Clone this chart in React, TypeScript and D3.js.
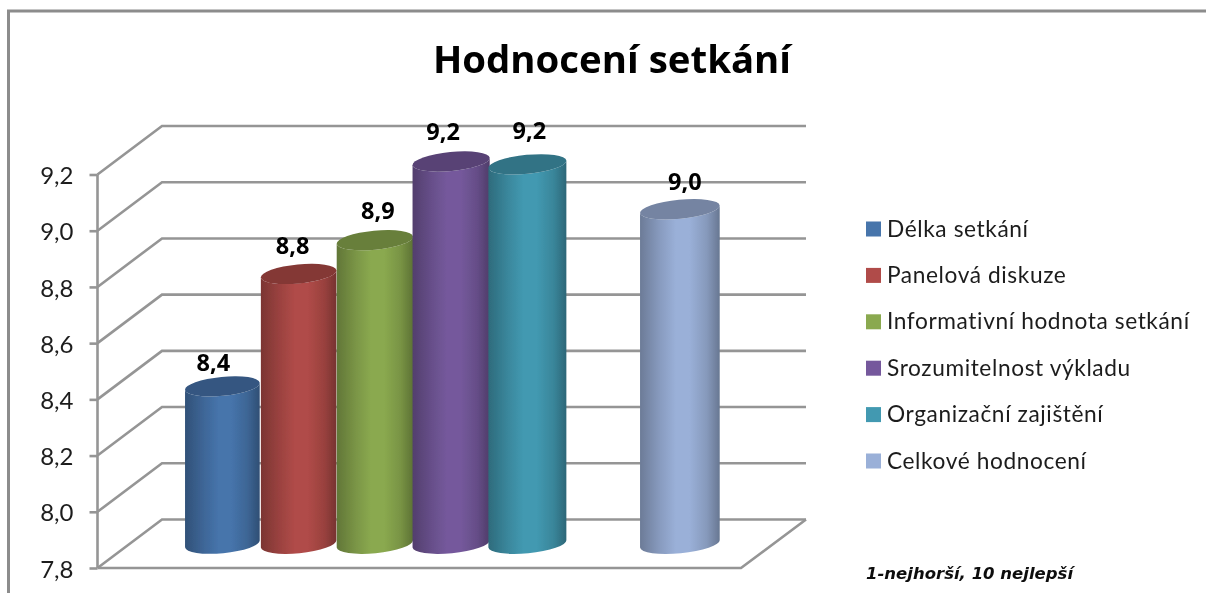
import { useEffect, useRef } from "react";
import * as d3 from "d3";

const title = "Hodnocení setkání";
const note = "1-nejhorší, 10 nejlepší";
const categories = ["Délka setkání", "Panelová diskuze", "Informativní hodnota setkání", "Srozumitelnost výkladu", "Organizační zajištění", "Celkové hodnocení"];
const values = [8.36, 8.76, 8.88, 9.16, 9.15, 8.99];
const colors = ["#4674ab", "#b04b48", "#8aa94f", "#75599c", "#4299b1", "#9ab0d8"];
const tickValues = [7.8, 8.0, 8.2, 8.4, 8.6, 8.8, 9.0, 9.2];
// the chart leaves one empty slot before the last cylinder
const slots = ["Délka setkání", "Panelová diskuze", "Informativní hodnota setkání", "Srozumitelnost výkladu", "Organizační zajištění", "", "Celkové hodnocení"];

const width = 1206;
const height = 593;
const font = "Lato, 'Open Sans', sans-serif";
const boldFont = "'Open Sans', Lato, sans-serif";
const gridColor = "#959595";
const x0 = 97.5;

function App() {
    const ref = useRef<SVGSVGElement>(null);

    useEffect(() => {
        const svg = d3.select(ref.current);
        svg.selectAll("*").remove();

        const y = d3.scaleLinear().domain([7.8, 9.2]).range([568, 174.5]);
        const x = d3.scaleBand().domain(slots).range([184.25, 718]).padding(0);
        const depthX = 64.5;
        const depthY = -48.5;
        const comma = (v: number) => d3.format(".1f")(v).replace(".", ",");

        const defs = svg.append("defs");
        defs.append("filter").attr("id", "soft")
            .attr("x", "-5%").attr("y", "-5%").attr("width", "110%").attr("height", "110%")
            .append("feGaussianBlur").attr("stdDeviation", 0.45);

        colors.forEach((c, i) => {
            const grad = defs.append("linearGradient").attr("id", `cyl${i}`);
            const base = d3.color(c)!;
            grad.append("stop").attr("offset", "0%").attr("stop-color", base.darker(1.0).formatHex());
            grad.append("stop").attr("offset", "25%").attr("stop-color", base.darker(0.35).formatHex());
            grad.append("stop").attr("offset", "45%").attr("stop-color", c);
            grad.append("stop").attr("offset", "62%").attr("stop-color", c);
            grad.append("stop").attr("offset", "84%").attr("stop-color", base.darker(0.4).formatHex());
            grad.append("stop").attr("offset", "100%").attr("stop-color", base.darker(1.1).formatHex());
        });

        const root = svg.append("g").attr("filter", "url(#soft)");

        // outer frame, open at the bottom and on the right
        root.append("path")
            .attr("d", `M8.5,${height + 10}V11H${width + 10}`)
            .attr("fill", "none")
            .attr("stroke", "#8c8c8c")
            .attr("stroke-width", 3);

        // grid: side wall diagonal + back wall line
        const line = d3.line();
        const grid = root.append("g").attr("fill", "none").attr("stroke", gridColor).attr("stroke-width", 2.6);
        tickValues.forEach((t) => {
            grid.append("path").attr("d", line([
                [x0, y(t)],
                [x0 + depthX, y(t) + depthY],
                [806, y(t) + depthY],
            ]));
        });
        // floor front and right edges
        grid.append("path").attr("d", line([
            [x0, y(7.8)],
            [741, y(7.8)],
            [806, y(7.8) + depthY],
        ]));

        const axis = d3.axisLeft(y).tickValues(tickValues).tickSize(8).tickPadding(16)
            .tickFormat((d) => comma(d as number));
        const axisG = root.append("g").attr("transform", `translate(${x0},0)`).call(axis);
        axisG.select(".domain").remove();
        axisG.selectAll(".tick line").attr("stroke", gridColor).attr("stroke-width", 2.6);
        axisG.selectAll("text")
            .attr("font-family", font)
            .attr("font-size", 24)
            .attr("fill", "#1c1c1c")
            .attr("dy", "0.38em");
        root.append("path")
            .attr("d", line([[x0, y(9.2)], [x0, y(7.8)]]))
            .attr("stroke", gridColor)
            .attr("stroke-width", 2.6);

        // cylinders, drawn left to right so each one overlaps the previous
        const tilt = 5.5;
        const rad = (tilt * Math.PI) / 180;
        const ry = 9.5;
        const bars = root.append("g");
        categories.forEach((name, i) => {
            const cx = x(name)! + x.bandwidth() / 2;
            const rx = 37.5 + (cx - 222) * 0.0055;
            const top = y(values[i]) + depthY / 2;
            const bottom = y(7.8) + depthY / 2;
            const dx = rx * Math.cos(rad);
            const dy = rx * Math.sin(rad);
            const d = `M${cx - dx},${top + dy}L${cx - dx},${bottom + dy}`
                + `A${rx},${ry} ${-tilt} 0 0 ${cx + dx},${bottom - dy}`
                + `L${cx + dx},${top - dy}`
                + `A${rx},${ry} ${-tilt} 0 1 ${cx - dx},${top + dy}Z`;
            bars.append("path").attr("d", d).attr("fill", `url(#cyl${i})`);
            bars.append("ellipse")
                .attr("rx", rx)
                .attr("ry", ry)
                .attr("transform", `translate(${cx},${top}) rotate(${-tilt})`)
                .attr("fill", d3.color(colors[i])!.darker(0.8).formatHex());
        });

        // value labels sit by hand around the cylinders in the original
        const labelNudge = [[-9, 1], [-6, -4], [3, -5], [-8, -5], [2, -9], [5, -3]];
        const labels = root.append("g");
        categories.forEach((name, i) => {
            const cx = x(name)! + x.bandwidth() / 2;
            labels.append("text")
                .attr("x", cx + labelNudge[i][0])
                .attr("y", y(values[i]) + depthY / 2 - 9.5 - 6.5 + labelNudge[i][1])
                .attr("text-anchor", "middle")
                .attr("font-family", boldFont)
                .attr("font-weight", 700)
                .attr("font-size", 23.5)
                .attr("fill", "#000")
                .text(comma(values[i]));
        });

        root.append("text")
            .attr("x", 612)
            .attr("y", 73)
            .attr("text-anchor", "middle")
            .attr("font-family", boldFont)
            .attr("font-weight", 700)
            .attr("font-size", 38.4)
            .attr("fill", "#000")
            .text(title);

        // legend
        const legendY = d3.scalePoint().domain(categories).range([229, 461]);
        const legend = root.append("g");
        categories.forEach((name, i) => {
            const cy = legendY(name)!;
            legend.append("rect")
                .attr("x", 866)
                .attr("y", cy - 7.5)
                .attr("width", 15)
                .attr("height", 15)
                .attr("fill", colors[i]);
            legend.append("text")
                .attr("x", 887)
                .attr("y", cy + 7.5)
                .attr("font-family", font)
                .attr("font-size", 22.7)
                .attr("letter-spacing", 0.6)
                .attr("fill", "#1c1c1c")
                .text(name);
        });

        root.append("text")
            .attr("x", 866)
            .attr("y", 579)
            .attr("font-family", "'DejaVu Sans', sans-serif")
            .attr("font-weight", 700)
            .attr("font-style", "italic")
            .attr("font-size", 16.5)
            .attr("fill", "#111")
            .text(note);
    }, []);

    return (
        <svg
            ref={ref}
            width={width}
            height={height}
            style={{ position: "absolute", left: 0, top: 0, display: "block", background: "#fff" }}
        />
    );
}

export default App;
